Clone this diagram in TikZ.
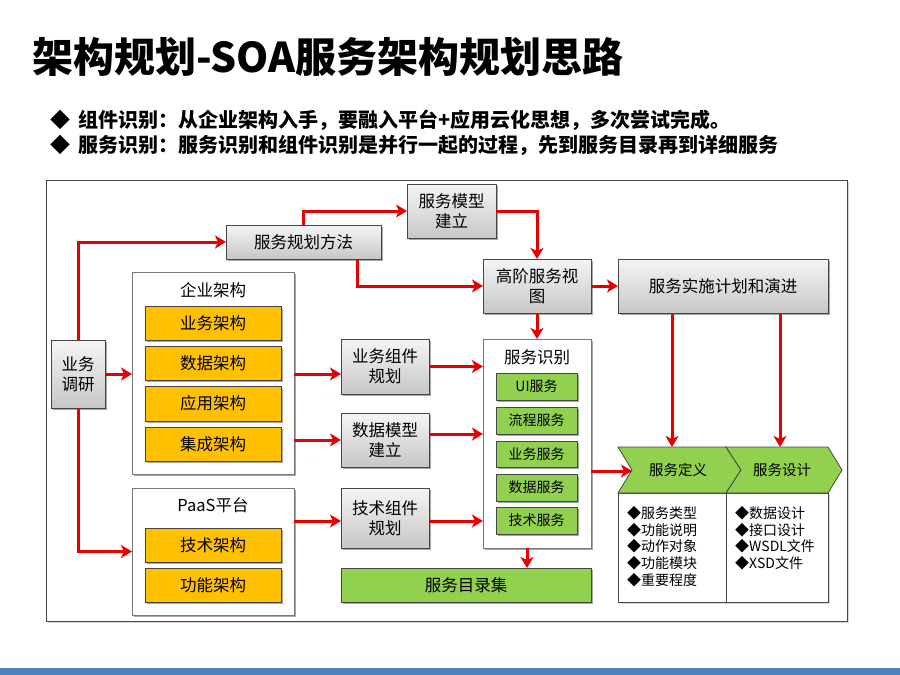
\documentclass[tikz,border=0pt]{standalone}
\usepackage{fontspec}
\setmainfont{Noto Sans CJK SC}
\usetikzlibrary{arrows.meta,shadows,calc}
\definecolor{rd}{RGB}{232,0,0}
\definecolor{org}{RGB}{255,192,0}
\definecolor{grn}{RGB}{146,208,80}
\definecolor{bdr}{RGB}{70,70,70}
\definecolor{cbd}{RGB}{120,120,120}
\definecolor{barblue}{RGB}{79,129,189}
\newcommand\bx[7]{\node[#2, minimum width={(#5)-(#3)}, minimum height={(#6)-(#4)}] (#1) at ({((#3)+(#5))/2},{((#4)+(#6))/2}) {#7};}
\tikzset{
  base/.style={inner sep=0pt, outer sep=0pt, align=center, font=\fontsize{16.5}{20}\selectfont},
  shd/.style={drop shadow={shadow xshift=1.6pt, shadow yshift=-1.6pt, opacity=0.35, fill=black}},
  graybox/.style={base, shd, draw=bdr, line width=0.8pt, top color=white!96!black, bottom color=black!22},
  orgbox/.style={base, shd, draw=bdr, line width=0.8pt, fill=org},
  grnbox/.style={base, shd, draw=bdr, line width=0.8pt, fill=grn},
  smallgrn/.style={grnbox, font=\fontsize{14}{16}\selectfont},
  cont/.style={base, shd, draw=cbd, line width=0.9pt, fill=white},
  ctitle/.style={inner sep=0pt, font=\fontsize{16.5}{20}\selectfont},
  arr/.style={draw=rd, line width=3pt, -{Stealth[length=11pt,width=13pt,inset=3pt]}},
  listtxt/.style={inner sep=0pt, anchor=north west, align=left, font=\fontsize{14}{16.75}\selectfont},
  bul/.style={anchor=west, inner sep=0pt, font=\fontsize{20}{24}\selectfont\bfseries},
}
\begin{document}
\begin{tikzpicture}[x=1pt,y=-1pt]
\useasboundingbox (0,0) rectangle (900,675);
\fill[white] (0,0) rectangle (900,675);
% title
\node[anchor=west, inner sep=0pt, font=\fontsize{41}{46}\selectfont\bfseries] (title) at (32,57) {架构规划-SOA服务架构规划思路};
\node[bul] (b1) at (50,120) {◆\hspace{8pt}组件识别：从企业架构入手，要融入平台+应用云化思想，多次尝试完成。};
\node[bul] (b2) at (50,145) {◆\hspace{8pt}服务识别：服务识别和组件识别是并行一起的过程，先到服务目录再到详细服务};
% frame
\draw[draw=bdr, line width=1pt, fill=white, drop shadow={shadow xshift=1.5pt, shadow yshift=-1.5pt, opacity=0.3}] (46,180) rectangle (847,621);
% bottom bar
\fill[barblue] (0,668) rectangle (900,675);

% gray boxes
\bx{yw}{graybox}{51}{340}{105}{408}{业务\\调研}
\bx{fa}{graybox}{226}{225}{381}{259}{服务规划方法}
\bx{mx}{graybox}{407}{184}{496}{238}{服务模型\\建立}
\bx{gj}{graybox}{483}{259}{591}{313}{高阶服务视\\图}
\bx{ss}{graybox}{618}{259}{828}{313}{服务实施计划和演进}
\bx{yz}{graybox}{341}{339}{429}{394}{业务组件\\规划}
\bx{sj}{graybox}{341}{413}{429}{467}{数据模型\\建立}
\bx{jz}{graybox}{341}{488}{429}{548}{技术组件\\规划}
\bx{ml}{grnbox}{341}{568}{591}{602}{服务目录集}

% containers
\bx{qy}{cont}{132}{272}{294}{474}{}
\node[ctitle] (qyt) at (213,290) {企业架构};
\bx{o1}{orgbox}{145}{306}{281}{340}{业务架构}
\bx{o2}{orgbox}{145}{346}{281}{380}{数据架构}
\bx{o3}{orgbox}{145}{386}{281}{421}{应用架构}
\bx{o4}{orgbox}{145}{427}{281}{461}{集成架构}

\bx{paas}{cont}{132}{488}{294}{615}{}
\node[ctitle] (paast) at (213,505) {PaaS平台};
\bx{o5}{orgbox}{145}{528}{281}{562}{技术架构}
\bx{o6}{orgbox}{145}{568}{281}{602}{功能架构}

\bx{sb}{cont}{483}{339}{591}{548}{}
\node[ctitle] (sbt) at (537,357) {服务识别};
\bx{g1}{smallgrn}{496}{373}{577}{400}{UI服务}
\bx{g2}{smallgrn}{496}{407}{577}{434}{流程服务}
\bx{g3}{smallgrn}{496}{441}{577}{467}{业务服务}
\bx{g4}{smallgrn}{496}{474}{577}{501}{数据服务}
\bx{g5}{smallgrn}{496}{507}{577}{534}{技术服务}

% service definition / design
\draw[draw=bdr, line width=0.8pt, fill=white, drop shadow={shadow xshift=1.5pt, shadow yshift=-1.5pt, opacity=0.3}] (618,493) rectangle (828,602);
\draw[draw=bdr, line width=0.8pt] (726,493) -- (726,602);
\draw[draw=bdr, line width=0.8pt, fill=grn] (618,447) -- (726,447) -- (741,470) -- (726,493) -- (618,493) -- (632,470) -- cycle;
\draw[draw=bdr, line width=0.8pt, fill=grn] (726,447) -- (828,447) -- (842,470) -- (828,493) -- (726,493) -- (741,470) -- cycle;
\node[inner sep=0pt, font=\fontsize{14.5}{17}\selectfont] (dy) at (678,470) {服务定义};
\node[inner sep=0pt, font=\fontsize{14.5}{17}\selectfont] (sj2) at (782,470) {服务设计};
\node[listtxt] (l1) at (627,506) {◆服务类型\\◆功能说明\\◆动作对象\\◆功能模块\\◆重要程度};
\node[listtxt] (l2) at (735,506) {◆数据设计\\◆接口设计\\◆WSDL文件\\◆XSD文件};

% coordinates
\coordinate (notch) at (632,471);
\coordinate (d1) at (672,447);
\coordinate (d2) at (780,447);
\coordinate (faup) at (303,225);
\coordinate (fadn) at (357,259);
\coordinate (sjout) at (429,434);
\coordinate (jzout) at (429,521);
\coordinate (sbdn) at (527,548);

% arrows
\draw[arr] (yw.north) |- (fa.west);
\draw[arr] (faup) |- (mx.west);
\draw[arr] (fadn) |- (gj.west);
\draw[arr] (mx.east) -| (gj.north);
\draw[arr] (gj.east) -- (ss.west);
\draw[arr] (gj.south) -- (sb.north);
\draw[arr] (ss.south -| d1) -- (d1);
\draw[arr] (ss.south -| d2) -- (d2);
\draw[arr] (yw.east) -- (qy.west |- yw.east);
\draw[arr] (yw.south) |- (paas.west);
\draw[arr] (qy.east |- yw.east) -- (yz.west |- yw.east);
\draw[arr] (qy.east |- sj.west) -- (sj.west);
\draw[arr] (paas.east |- jzout) -- (jz.west |- jzout);
\draw[arr] (yz.east) -- (sb.west |- yz.east);
\draw[arr] (sjout) -- (sb.west |- sjout);
\draw[arr] (jzout) -- (sb.west |- jzout);
\draw[arr] (sb.east |- notch) -- (notch);
\draw[arr] (sbdn) -- (ml.north -| sbdn);
\end{tikzpicture}
\end{document}
